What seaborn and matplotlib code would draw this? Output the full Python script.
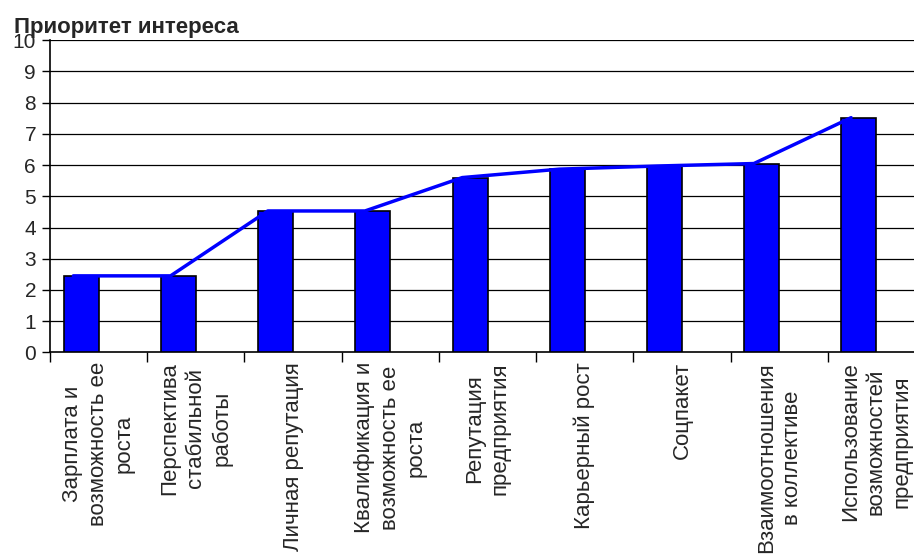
import matplotlib
matplotlib.use("Agg")
import matplotlib.pyplot as plt
import seaborn as sns
import numpy as np

categories = [
    "Зарплата и\nвозможность ее\nроста",
    "Перспектива\nстабильной\nработы",
    "Личная репутация",
    "Квалификация и\nвозможность ее\nроста",
    "Репутация\nпредприятия",
    "Карьерный рост",
    "Соцпакет",
    "Взаимоотношения\nв коллективе",
    "Использование\nвозможностей\nпредприятия",
]
values = [2.45, 2.45, 4.53, 4.53, 5.6, 5.87, 5.97, 6.05, 7.52]
yticks = list(range(0, 11))
title = "Приоритет интереса"

sns.set_theme(style="white")
plt.rcParams['font.family'] = ['Liberation Sans', 'DejaVu Sans']

fig = plt.figure(figsize=(9.14, 5.56), dpi=100)
ax = fig.add_axes([50/914, 203.7/556, 875/914, 312/556])

pos = np.arange(len(categories))
sns.barplot(x=pos - 0.18, y=values, native_scale=True, width=0.36,
            color="#0000FF", saturation=1, edgecolor="black", linewidth=1.2,
            ax=ax, zorder=3)
sns.lineplot(x=pos - 0.26, y=values, color="#0000FF", linewidth=2.5, ax=ax,
             zorder=4)

ax.set_xlim(-0.5, len(categories) - 0.5)
ax.set_ylim(0, 10)
ax.set_yticks(yticks)
ax.set_yticklabels([str(t) for t in yticks], fontsize=15)
for t in yticks[1:]:
    ax.axhline(t, color="black", linewidth=0.9, zorder=1)

ax.set_xticks(np.arange(-0.5, len(categories), 1.0))
ax.set_xticklabels([])
ax.set_xticks(pos, minor=True)
ax.set_xticklabels(categories, minor=True, rotation=90, ha="center", va="top",
                   multialignment="center", fontsize=16, linespacing=1.3)
ax.tick_params(axis="x", which="major", direction="out", length=7, width=1,
               color="black", bottom=True)
ax.tick_params(axis="x", which="minor", length=0, pad=7)
ax.tick_params(axis="y", direction="out", length=6, width=1, color="black",
               left=True, pad=4)

for s in ["top", "right"]:
    ax.spines[s].set_visible(False)
for s in ["left", "bottom"]:
    ax.spines[s].set_color("black")
    ax.spines[s].set_linewidth(1.2)
ax.set_xlabel("")
ax.set_ylabel("")

fig.text(14/914, 1 - 33/556, title, fontsize=16, fontweight="bold",
         ha="left", va="baseline")

fig.savefig("out.png", dpi=100)
